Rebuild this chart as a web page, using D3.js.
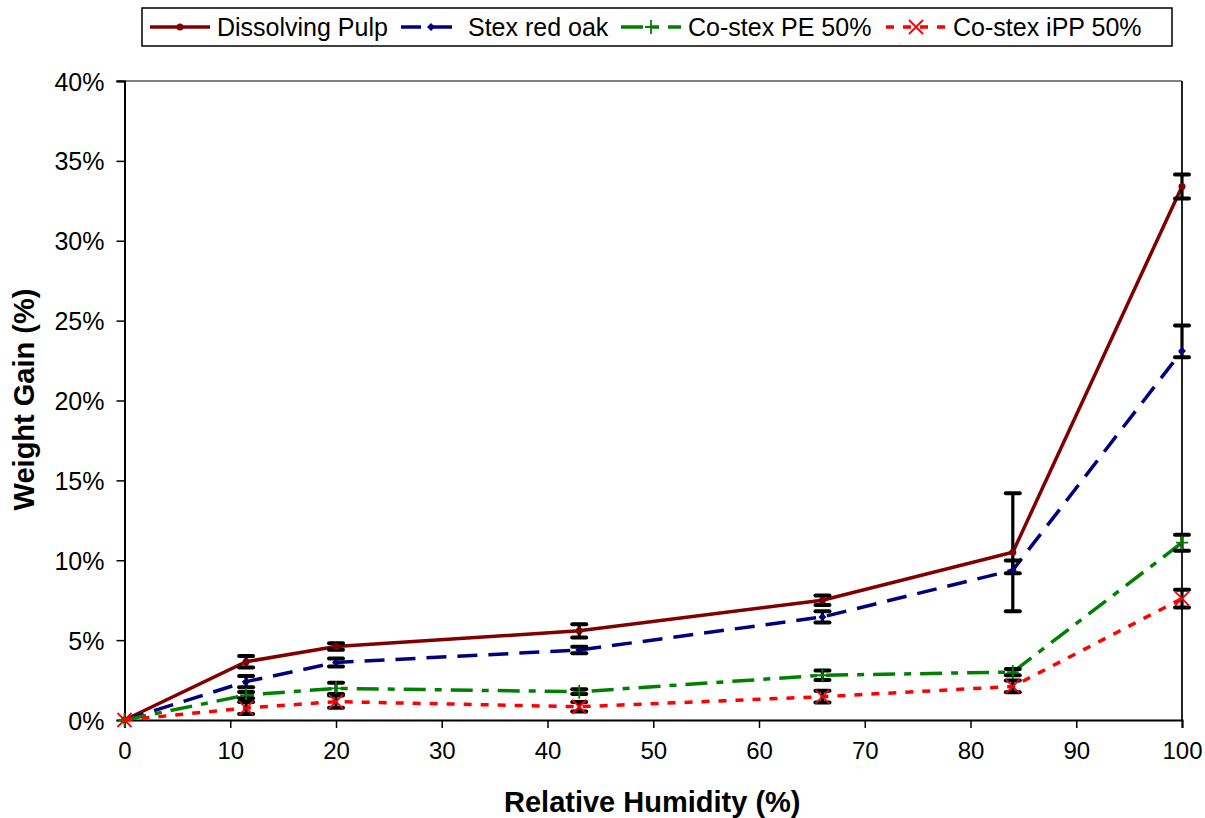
<!DOCTYPE html>
<html>
<head>
<meta charset="utf-8">
<script src="https://cdn.jsdelivr.net/npm/d3@7"></script>
<style>
  body { margin: 0; background: #fff; }
  svg { font-family: Arial, "Liberation Sans", sans-serif; }
</style>
</head>
<body>
<svg id="chart" width="1205" height="818"></svg>

<script type="text/javascript">
// relative humidity (%) of each measurement
var humidity = [0, 11.5, 20, 43, 66, 84, 100];

// weight gain (%) and error bars
var pulp      = [0, 3.65, 4.6, 5.58, 7.5, 10.5, 33.4];
var pulpErr   = [0, 0.36, 0.2, 0.42, 0.3, 3.7, 0.75];

var stex      = [0, 2.4, 3.6, 4.38, 6.45, 9.38, 23.1];
var stexErrUp = [0, 0.35, 0.25, 0.2, 0.35, 0.6, 1.6];
var stexErrDn = [0, 0.35, 0.25, 0.2, 0.35, 0.2, 0.4];

var pe        = [0, 1.56, 1.98, 1.77, 2.8, 3.0, 11.1];
var peErr     = [0, 0.2, 0.35, 0.15, 0.3, 0.2, 0.5];

var ipp       = [0, 0.75, 1.15, 0.83, 1.46, 2.1, 7.6];
var ippErr    = [0, 0.37, 0.38, 0.3, 0.37, 0.37, 0.55];

var seriesNames = ["Dissolving Pulp", "Stex red oak", "Co-stex PE 50%", "Co-stex iPP 50%"];
var xTicks = [0, 10, 20, 30, 40, 50, 60, 70, 80, 90, 100];
var yTicks = [0, 5, 10, 15, 20, 25, 30, 35, 40];

function points(vals, up, dn){
  return humidity.map(function (h, i) {
    return { x: h, y: vals[i], hi: vals[i] + up[i], lo: vals[i] - dn[i] };
  });
}

var series = [
  { name: seriesNames[0], data: points(pulp, pulpErr, pulpErr), color: "#800000", dash: null,         marker: "circle" },
  { name: seriesNames[1], data: points(stex, stexErrUp, stexErrDn), color: "#000080", dash: "20,11",  marker: "diamond" },
  { name: seriesNames[2], data: points(pe, peErr, peErr),       color: "#008000", dash: "22,9,7,9",   marker: "plus" },
  { name: seriesNames[3], data: points(ipp, ippErr, ippErr),    color: "#ff0000", dash: "8,9",        marker: "cross" }
];

// plot area edges (window.top is taken, hence the prefix)
var plotLeft = 124.5, plotRight = 1182, plotTop = 81, plotBottom = 720;

var svg = d3.select("#chart");

var x = d3.scaleLinear().domain([0, 100]).range([plotLeft, plotRight]);
var y = d3.scaleLinear().domain([0, 40]).range([plotBottom, plotTop]);

// plot area border (top and right)
svg.append("line")
  .attr("x1", plotLeft - 8).attr("x2", plotRight).attr("y1", plotTop).attr("y2", plotTop)
  .style("stroke", "#808080").style("stroke-width", 2);
svg.append("line")
  .attr("x1", plotRight).attr("x2", plotRight).attr("y1", plotTop).attr("y2", plotBottom)
  .style("stroke", "#222").style("stroke-width", 2);

var xAxis = d3.axisBottom(x).tickValues(xTicks).tickSize(8).tickPadding(14);
var yAxis = d3.axisLeft(y).tickValues(yTicks).tickSize(8).tickPadding(12)
  .tickFormat(function (d) { return d + "%"; });

var gx = svg.append("g")
  .attr("transform", "translate(0," + plotBottom + ")")
  .call(xAxis);
var gy = svg.append("g")
  .attr("transform", "translate(" + plotLeft + ",0)")
  .call(yAxis);

[gx, gy].forEach(function (g) {
  g.select(".domain").style("stroke", "#000").style("stroke-width", 2);
  g.selectAll(".tick line").style("stroke", "#000").style("stroke-width", 1.5);
  g.selectAll(".tick text").style("fill", "#000").style("font-family", "Arial, 'Liberation Sans', sans-serif");
});
gx.selectAll(".tick text").style("font-size", "24px");
gy.selectAll(".tick text").style("font-size", "25px").attr("dy", "0.36em");

svg.append("text")
  .attr("x", (plotLeft + plotRight) / 2 - 1).attr("y", 812)
  .attr("text-anchor", "middle")
  .style("font-size", "29px").style("font-weight", "bold")
  .text("Relative Humidity (%)");

svg.append("text")
  .attr("transform", "translate(34," + ((plotTop + plotBottom) / 2 - 1) + ") rotate(-90)")
  .attr("text-anchor", "middle")
  .style("font-size", "29px").style("font-weight", "bold")
  .text("Weight Gain (%)");

function drawMarker(g, kind, cx, cy, color){
  if (kind === "circle") {
    g.append("circle").attr("cx", cx).attr("cy", cy).attr("r", 3.5).style("fill", color);
  } else if (kind === "diamond") {
    g.append("path")
      .attr("d", "M" + cx + "," + (cy - 4) + "L" + (cx + 4) + "," + cy + "L" + cx + "," + (cy + 4) + "L" + (cx - 4) + "," + cy + "Z")
      .style("fill", color);
  } else if (kind === "plus") {
    g.append("path")
      .attr("d", "M" + (cx - 6) + "," + cy + "H" + (cx + 6) + "M" + cx + "," + (cy - 7) + "V" + (cy + 7))
      .style("stroke", color).style("stroke-width", 1.8).style("fill", "none");
  } else {
    g.append("path")
      .attr("d", "M" + (cx - 7) + "," + (cy - 7) + "L" + (cx + 7) + "," + (cy + 7) + "M" + (cx - 7) + "," + (cy + 7) + "L" + (cx + 7) + "," + (cy - 7))
      .style("stroke", color).style("stroke-width", 1.8).style("fill", "none");
  }
}

var line = d3.line()
  .x(function (d) { return x(d.x); })
  .y(function (d) { return y(d.y); });

series.forEach(function (s) {
  var g = svg.append("g");
  g.append("path")
    .datum(s.data)
    .attr("d", line)
    .style("fill", "none")
    .style("stroke", s.color)
    .style("stroke-width", 3.5)
    .style("stroke-dasharray", s.dash);

  // error bars
  s.data.forEach(function (d) {
    if (d.hi === d.lo) return;
    var px = x(d.x);
    g.append("line")
      .attr("x1", px).attr("x2", px).attr("y1", y(d.hi)).attr("y2", y(d.lo))
      .style("stroke", "#000").style("stroke-width", 3.2);
    [d.hi, d.lo].forEach(function (v) {
      g.append("line")
        .attr("x1", px - 7).attr("x2", px + 7).attr("y1", y(v)).attr("y2", y(v))
        .style("stroke", "#000").style("stroke-width", 4).style("stroke-linecap", "round");
    });
  });

  s.data.forEach(function (d) {
    drawMarker(g, s.marker, x(d.x), y(d.y), s.color);
  });
});

// legend
var legend = svg.append("g");
legend.append("rect")
  .attr("x", 142).attr("y", 8).attr("width", 1030).attr("height", 38)
  .style("fill", "#fff").style("stroke", "#000").style("stroke-width", 1.5);

var legendX = [150, 401, 621, 886];
series.forEach(function (s, i) {
  var lx = legendX[i], ly = 27;
  legend.append("line")
    .attr("x1", lx).attr("x2", lx + 60).attr("y1", ly).attr("y2", ly)
    .style("stroke", s.color).style("stroke-width", 3.5)
    .style("stroke-dasharray", s.dash);
  drawMarker(legend, s.marker, lx + 30, ly, s.color);
  legend.append("text")
    .attr("x", lx + 67).attr("y", ly + 9)
    .style("font-size", "25px")
    .text(s.name);
});
</script>
</body>
</html>
